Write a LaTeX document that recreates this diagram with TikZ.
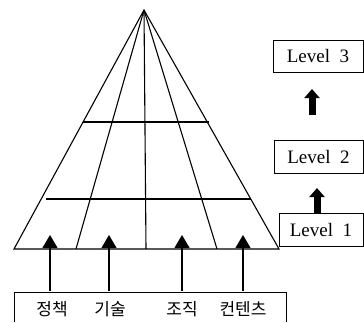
\documentclass[tikz,border=0pt]{standalone}
\usepackage{fontspec}
\setmainfont{Liberation Serif}
\newfontfamily\kor{Noto Sans CJK KR}
\usetikzlibrary{arrows.meta}
\begin{document}
\begin{tikzpicture}[x=1pt,y=-1pt,
  edge/.style={line width=1.1pt},
  levelbox/.style={draw,line width=0.9pt,fill=white,inner sep=0pt,font=\fontsize{19}{19}\selectfont},
  uparrow/.style={line width=1.1pt,-{Triangle[width=15pt,length=13pt]}},
  blockarrow/.style={line width=7pt,-{Triangle[width=15pt,length=9pt]}},
  kortext/.style={font=\kor\fontsize{17}{17}\selectfont,inner sep=0pt}]
\useasboundingbox (0,0) rectangle (364,322);
% pyramid
\coordinate (apex) at (144,10);
\coordinate (bl) at (14,249);
\coordinate (br) at (279,249);
\coordinate (b1) at (76,249);
\coordinate (b2) at (146,249);
\coordinate (b3) at (217,249);
\coordinate (h1l) at (83,122);
\coordinate (h1r) at (209,122);
\coordinate (h2l) at (46,199);
\coordinate (h2r) at (251,199);
\draw[edge] (bl) -- (apex) -- (br) -- cycle;
\draw[edge] (apex) -- (b1);
\draw[edge] (apex) -- (b2);
\draw[edge] (apex) -- (b3);
\draw[edge] (h1l) -- (h1r);
\draw[edge] (h2l) -- (h2r);
% bottom box (open at the bottom edge of the picture)
\draw[line width=0.9pt] (14,322) -- (14,292) -- (286,292) -- (286,322);
\node[kortext] (t1) at (52,309) {정책};
\node[kortext] (t2) at (110,309) {기술};
\node[kortext] (t3) at (182,309) {조직};
\node[kortext] (t4) at (243,309) {컨텐츠};
\coordinate (a1) at (50,235);
\coordinate (a2) at (109,235);
\coordinate (a3) at (182,235);
\coordinate (a4) at (243,235);
\draw[uparrow] (a1 |- 0,291) -- (a1);
\draw[uparrow] (a2 |- 0,291) -- (a2);
\draw[uparrow] (a3 |- 0,291) -- (a3);
\draw[uparrow] (a4 |- 0,291) -- (a4);
% levels
\node[levelbox,minimum width=90pt,minimum height=32pt] (lv3) at (318,56) {Level\ \ 3};
\node[levelbox,minimum width=89pt,minimum height=33pt] (lv2) at (318.5,156.5) {Level\ \ 2};
\node[levelbox,minimum width=84pt,minimum height=33pt] (lv1) at (321,229.5) {Level\ \ 1};
\coordinate (k1s) at (312,115);
\coordinate (k1e) at (312,89);
\coordinate (k2e) at (317,188);
\draw[blockarrow] (k1s) -- (k1e);
\draw[blockarrow] (k2e |- lv1.north) -- (k2e);
\end{tikzpicture}
\end{document}
